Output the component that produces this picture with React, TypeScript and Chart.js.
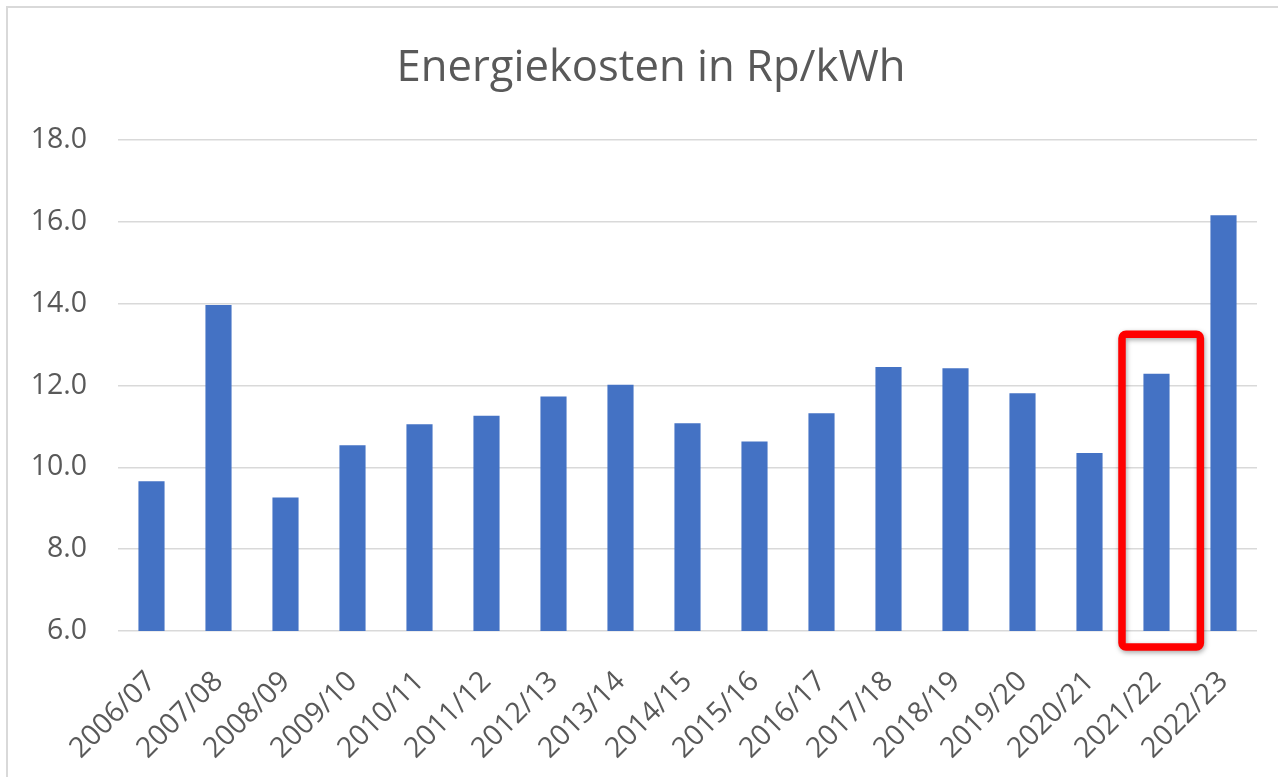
import React, { useEffect, useRef } from 'react';
import { Chart, registerables } from 'chart.js';

Chart.register(...registerables);

const categories = [
  '2006/07', '2007/08', '2008/09', '2009/10', '2010/11', '2011/12', '2012/13', '2013/14', '2014/15',
  '2015/16', '2016/17', '2017/18', '2018/19', '2019/20', '2020/21', '2021/22', '2022/23',
];
const energyCosts = [
  9.66, 13.97, 9.26, 10.54, 11.05, 11.26, 11.73, 12.02, 11.08,
  10.63, 11.32, 12.45, 12.42, 11.81, 10.35, 12.29, 16.16,
];
const yMin = 6;
const yMax = 18;
const yStep = 2;
const titleText = 'Energiekosten in Rp/kWh';
const highlightCategory = '2021/22';
const highlightFrom = 5.61;
const highlightTo = 13.25;

const FONT = "'Open Sans', sans-serif";
const TEXT = '#595959';
const GRID = '#d9d9d9';
const BAR = '#4472C4';

const titlePlugin = {
  id: 'customTitle',
  afterDraw(chart: any) {
    const ctx = chart.ctx;
    ctx.save();
    ctx.fillStyle = TEXT;
    ctx.font = `normal 43.6px ${FONT}`;
    ctx.textAlign = 'center';
    ctx.textBaseline = 'alphabetic';
    ctx.fillText(titleText, 651, 81);
    ctx.restore();
  },
};

const highlightPlugin = {
  id: 'highlightBox',
  afterDatasetsDraw(chart: any) {
    const xs = chart.scales.x;
    const ys = chart.scales.y;
    const idx = categories.indexOf(highlightCategory);
    if (idx < 0) return;
    const cx = xs.getPixelForValue(idx);
    const cw = xs.getPixelForValue(1) - xs.getPixelForValue(0);
    const left = cx - cw * 0.515;
    const right = cx + cw * 0.655;
    const top = ys.getPixelForValue(highlightTo);
    const bottom = ys.getPixelForValue(highlightFrom);
    const ctx = chart.ctx;
    ctx.save();
    ctx.shadowColor = 'rgba(0,0,0,0.35)';
    ctx.shadowBlur = 5;
    ctx.shadowOffsetX = 1;
    ctx.shadowOffsetY = 2;
    ctx.strokeStyle = '#ff0000';
    ctx.lineWidth = 7.5;
    ctx.lineJoin = 'round';
    ctx.beginPath();
    if ((ctx as any).roundRect) {
      (ctx as any).roundRect(left, top, right - left, bottom - top, 4);
    } else {
      ctx.rect(left, top, right - left, bottom - top);
    }
    ctx.stroke();
    ctx.restore();
  },
};

export default function App() {
  const canvasRef = useRef<HTMLCanvasElement | null>(null);

  useEffect(() => {
    const canvas = canvasRef.current;
    if (!canvas) return;
    const chart = new Chart(canvas, {
      type: 'bar',
      data: {
        labels: categories,
        datasets: [
          {
            label: titleText,
            data: energyCosts,
            backgroundColor: BAR,
            borderWidth: 0,
            categoryPercentage: 1,
            barPercentage: 0.39,
          },
        ],
      },
      options: {
        responsive: false,
        animation: false,
        devicePixelRatio: 1,
        layout: { padding: { top: 140, left: 0, right: 21, bottom: 0 } },
        plugins: {
          legend: { display: false },
          tooltip: { enabled: false },
          title: { display: false },
        },
        scales: {
          x: {
            grid: { display: false, drawTicks: false },
            border: { display: false },
            ticks: {
              color: TEXT,
              font: { family: FONT, size: 28.5 },
              minRotation: 45,
              maxRotation: 45,
              padding: 34,
              labelOffset: 0,
              autoSkip: false,
            },
            afterFit: (scale: any) => {
              scale.height = 146;
              scale.paddingLeft = 0;
              scale.paddingRight = 0;
              scale.paddingTop = 0;
              scale.paddingBottom = 0;
            },
          },
          y: {
            min: yMin,
            max: yMax,
            grid: { color: GRID, lineWidth: 1.5, drawTicks: false },
            border: { display: false },
            ticks: {
              stepSize: yStep,
              color: TEXT,
              font: { family: FONT, size: 28.5 },
              padding: 31,
              callback: (v: any) => Number(v).toFixed(1),
            },
            afterFit: (scale: any) => {
              scale.width = 118;
              scale.paddingTop = 0;
              scale.paddingBottom = 0;
            },
          },
        },
      },
      plugins: [highlightPlugin, titlePlugin],
    });
    return () => chart.destroy();
  }, []);

  return (
    <div
      style={{
        position: 'fixed',
        left: 0,
        top: 0,
        width: 1278,
        height: 777,
        background: '#ffffff',
        overflow: 'hidden',
      }}
    >
      <div
        style={{
          position: 'absolute',
          left: 6,
          top: 6,
          width: 1320,
          height: 820,
          border: '2px solid #d9d9d9',
          boxSizing: 'border-box',
        }}
      />
      <canvas
        ref={canvasRef}
        width={1278}
        height={777}
        style={{ position: 'absolute', left: 0, top: 0, width: 1278, height: 777 }}
      />
    </div>
  );
}
